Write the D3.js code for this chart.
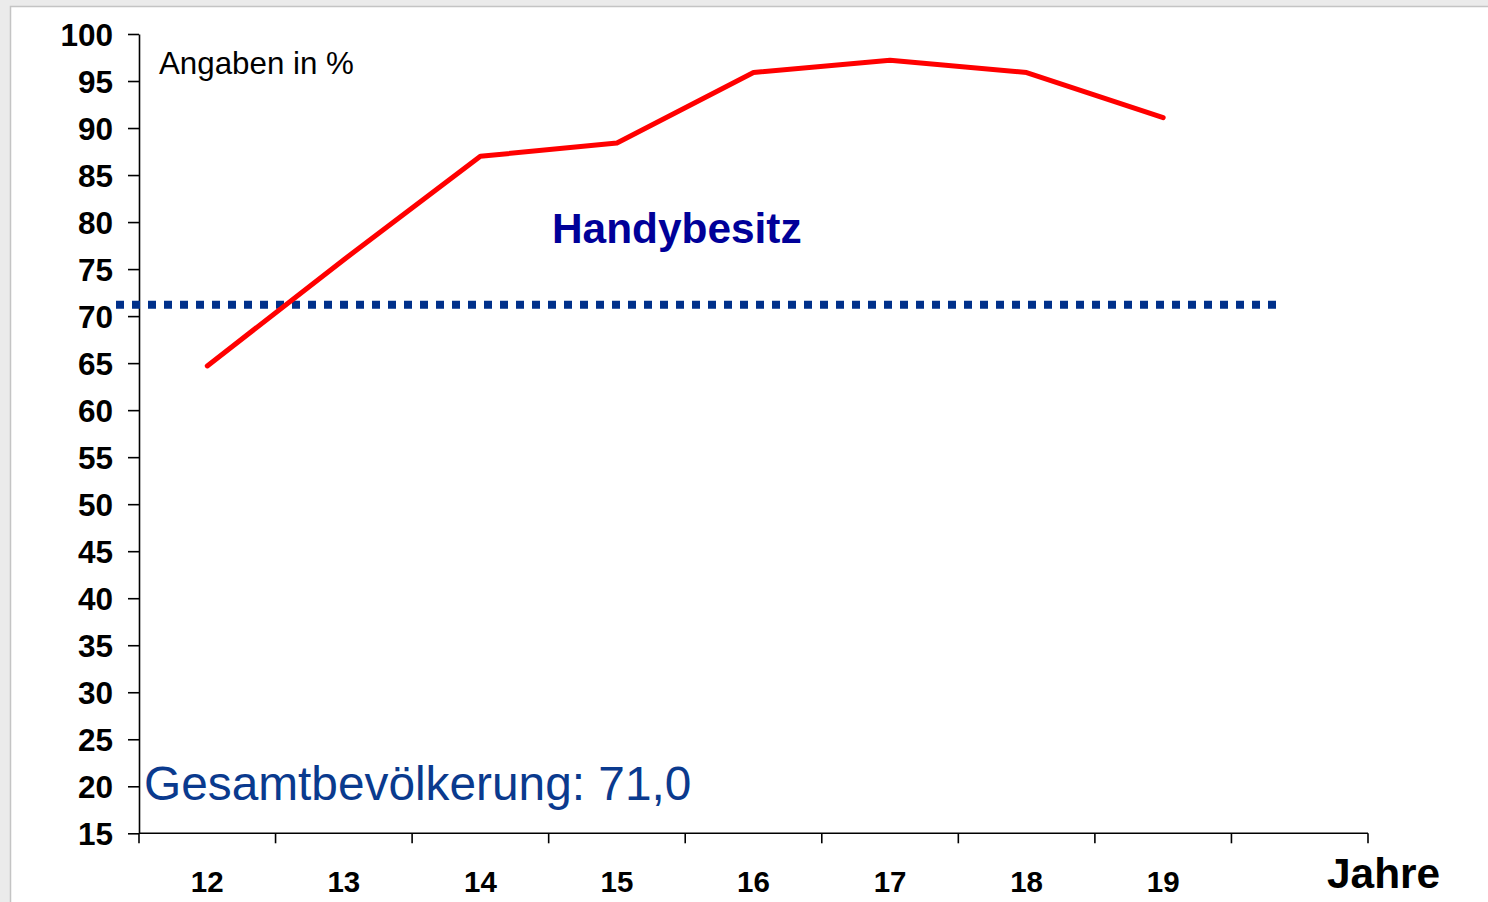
<!DOCTYPE html>
<html>
<head>
<meta charset="utf-8">
<script src="https://cdn.jsdelivr.net/npm/d3@7"></script>
<style>
    html, body { margin: 0; padding: 0; background: #ebebeb; }
    svg { display: block; }
    text { font-family: "Liberation Sans", Arial, sans-serif; }
</style>
</head>
<body>
<svg width="1488" height="902"></svg>
<script>
// Alter (Jahre) und Anteil mit Handy in %
var ages = ["12", "13", "14", "15", "16", "17", "18", "19", ""];
var handy = [64.7, 76.0, 87.0, 88.4, 95.9, 97.2, 95.9, 91.1];
var gesamt = 71.2;
var yTicks = [15, 20, 25, 30, 35, 40, 45, 50, 55, 60, 65, 70, 75, 80, 85, 90, 95, 100];

window.onload = main;

function main() {
    var svg = d3.select("svg");

    // white panel with grey frame
    svg.append("rect")
        .attr("x", 10.5).attr("y", 6.5)
        .attr("width", 1490).attr("height", 910)
        .attr("fill", "#fff")
        .attr("stroke", "#c4c4c4")
        .attr("stroke-width", 1.5);

    var left = 139, right = 1368, top = 34, bottom = 833.3;

    var x = d3.scaleBand().domain(ages).range([left, right]);
    var y = d3.scaleLinear().domain([15, 100]).range([bottom, top]);

    // y axis
    var yAxis = svg.append("g")
        .attr("transform", "translate(" + left + ",0)")
        .call(d3.axisLeft(y).tickValues(yTicks).tickSize(11).tickSizeOuter(0).tickPadding(15));
    yAxis.selectAll("text")
        .attr("font-size", 31.5).attr("font-weight", "bold").attr("fill", "#000")
        .attr("dy", "0.36em");

    // x axis: ticks at band edges, labels centred
    var xAxis = svg.append("g")
        .attr("transform", "translate(0," + bottom + ")");
    xAxis.append("line")
        .attr("x1", left).attr("x2", right)
        .attr("stroke", "#000").attr("stroke-width", 1.6);
    var edges = ages.map(function (d) { return x(d); }).concat([right]);
    xAxis.selectAll("line.tick")
        .data(edges).enter().append("line")
        .attr("class", "tick")
        .attr("x1", function (d) { return d; }).attr("x2", function (d) { return d; })
        .attr("y1", 0).attr("y2", 10)
        .attr("stroke", "#000").attr("stroke-width", 1.6);
    xAxis.selectAll("text")
        .data(ages).enter().append("text")
        .attr("x", function (d) { return x(d) + x.bandwidth() / 2; })
        .attr("y", 59)
        .attr("text-anchor", "middle")
        .attr("font-size", 29.5).attr("font-weight", "bold")
        .text(function (d) { return d; });

    yAxis.selectAll(".domain, .tick line").attr("stroke", "#000").attr("stroke-width", 1.6);

    // Gesamtbevölkerung reference line
    svg.append("line")
        .attr("x1", 116).attr("x2", 1277)
        .attr("y1", y(gesamt)).attr("y2", y(gesamt))
        .attr("stroke", "#00308a")
        .attr("stroke-width", 8)
        .attr("stroke-dasharray", "8,8");

    // Handybesitz line
    var line = d3.line()
        .x(function (d, i) { return x(ages[i]) + x.bandwidth() / 2; })
        .y(function (d) { return y(d); });
    svg.append("path")
        .datum(handy)
        .attr("d", line)
        .attr("fill", "none")
        .attr("stroke", "#ff0000")
        .attr("stroke-width", 5)
        .attr("stroke-linecap", "round")
        .attr("stroke-linejoin", "round");

    // labels
    svg.append("text")
        .attr("x", 159).attr("y", 74)
        .attr("font-size", 31.3)
        .text("Angaben in %");
    svg.append("text")
        .attr("x", 552).attr("y", 243)
        .attr("font-size", 42.4).attr("font-weight", "bold")
        .attr("fill", "#000099")
        .text("Handybesitz");
    svg.append("text")
        .attr("x", 144).attr("y", 800)
        .attr("font-size", 47.8)
        .attr("fill", "#0a3a8e")
        .text("Gesamtbevölkerung: 71,0");
    svg.append("text")
        .attr("x", 1327).attr("y", 888)
        .attr("font-size", 42.4).attr("font-weight", "bold")
        .text("Jahre");
}
</script>
</body>
</html>
